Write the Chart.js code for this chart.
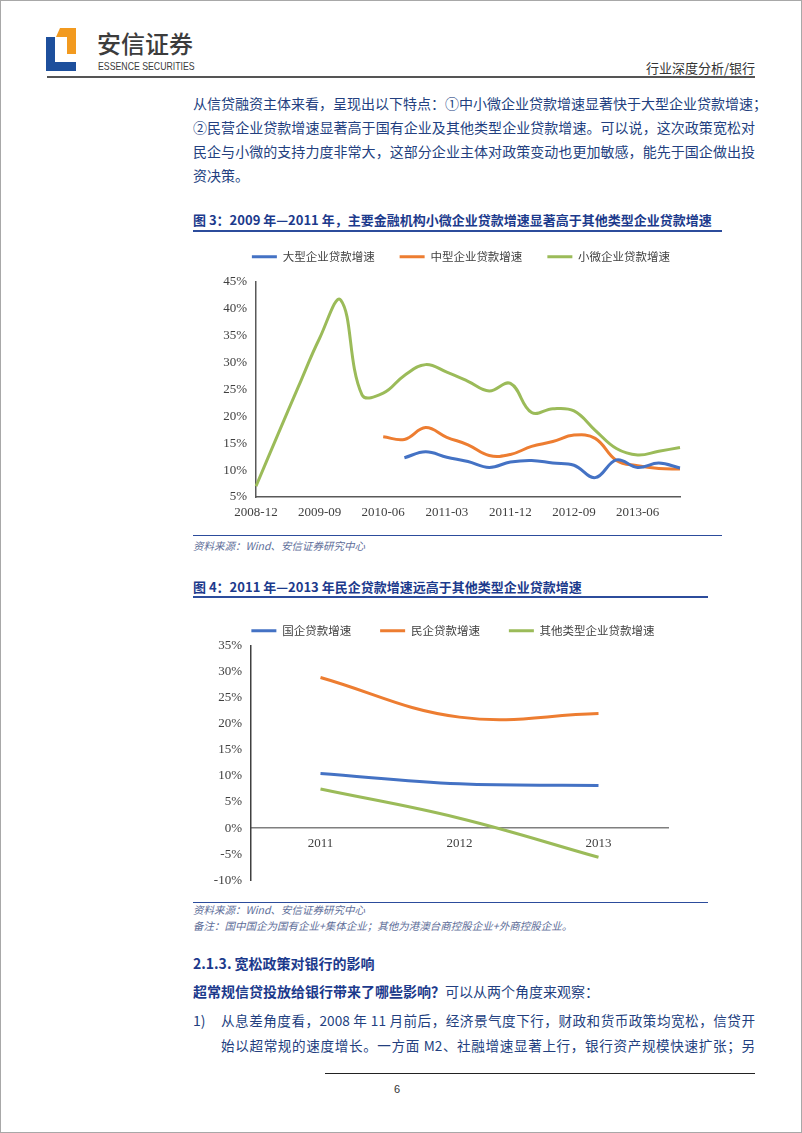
<!DOCTYPE html>
<html>
<head>
<meta charset="utf-8">
<script src="https://cdn.jsdelivr.net/npm/chart.js@4.4.1/dist/chart.umd.min.js"></script>
<style>
  html, body { margin: 0; padding: 0; background: #fff; }
  #page { position: relative; width: 802px; height: 1133px; overflow: hidden; font-family: "Noto Sans CJK SC", sans-serif; color: #233f7f; }
  .abs { position: absolute; }
  .frame { left: 0; top: 0; width: 802px; height: 1133px; box-sizing: border-box; border: 1px solid #a8a8a8; pointer-events: none; }
  .para { left: 193px; top: 91px; width: 562px; font-size: 14px; line-height: 24px; }
  .jl { text-align: justify; text-align-last: justify; white-space: nowrap; }
  .figtitle { left: 193px; font-size: 13px; line-height: 18px; font-weight: bold; color: #1c3a8c; white-space: nowrap; }
  .rule { left: 193px; background: #2c4c9c; }
  .src { left: 193px; font-size: 10.5px; line-height: 14px; font-style: italic; color: #5e6e99; white-space: nowrap; }
  .txt { font-size: 14px; line-height: 18px; white-space: nowrap; }
</style>
</head>
<body>
<div id="page">
  <svg class="abs" style="left:0;top:0" width="100" height="80">
    <polygon points="46,37 55,37 55,62 76,62 76,71 46,71" fill="#1d4f9c"/>
    <polygon points="56,37 60,28 76,28 76,54 67,54 67,37" fill="#f29a1f"/>
  </svg>
  <div class="abs" style="left:97px;top:28px;font-size:24px;line-height:30px;font-weight:500;color:#3c3c3c;">安信证券</div>
  <div class="abs" style="left:98px;top:60px;font-family:'Liberation Sans',sans-serif;font-size:11.5px;line-height:12px;color:#3c3c3c;transform:scaleX(0.76);transform-origin:left top;white-space:nowrap;">ESSENCE SECURITIES</div>
  <div class="abs" style="left:47px;top:76px;width:708px;height:2px;background:#555;"></div>
  <div class="abs" style="right:47px;top:60px;font-size:13px;line-height:16px;color:#333;">行业深度分析/银行</div>

  <div class="abs para">
    <div class="jl">从信贷融资主体来看，呈现出以下特点：①中小微企业贷款增速显著快于大型企业贷款增速；</div>
    <div class="jl">②民营企业贷款增速显著高于国有企业及其他类型企业贷款增速。可以说，这次政策宽松对</div>
    <div class="jl">民企与小微的支持力度非常大，这部分企业主体对政策变动也更加敏感，能先于国企做出投</div>
    <div>资决策。</div>
  </div>

  <div class="abs figtitle" style="top:211px;">图 3：2009 年—2011 年，主要金融机构小微企业贷款增速显著高于其他类型企业贷款增速</div>
  <div class="abs rule" style="top:230px;width:529px;height:2px;"></div>
  <div class="abs" style="left:193px;top:226px;width:536px;height:301px;"><canvas id="c1"></canvas></div>
  <div class="abs rule" style="top:535px;width:529px;height:1px;"></div>
  <div class="abs src" style="top:539px;">资料来源：Wind、安信证券研究中心</div>

  <div class="abs figtitle" style="top:578px;">图 4：2011 年—2013 年民企贷款增速远高于其他类型企业贷款增速</div>
  <div class="abs rule" style="top:596px;width:515px;height:2px;"></div>
  <div class="abs" style="left:193px;top:596px;width:520px;height:301px;"><canvas id="c2"></canvas></div>
  <div class="abs rule" style="top:902px;width:515px;height:1px;"></div>
  <div class="abs src" style="top:903px;">资料来源：Wind、安信证券研究中心</div>
  <div class="abs src" style="top:919px;">备注：国中国企为国有企业+集体企业；其他为港澳台商控股企业+外商控股企业。</div>

  <div class="abs txt" style="left:193px;top:954px;font-weight:bold;color:#1c3a8c;">2.1.3. 宽松政策对银行的影响</div>
  <div class="abs txt" style="left:193px;top:982px;"><b style="color:#1c3a8c;">超常规信贷投放给银行带来了哪些影响？</b>可以从两个角度来观察：</div>
  <div class="abs txt" style="left:193px;top:1011px;">1)</div>
  <div class="abs txt jl" style="left:221px;top:1011px;width:534px;font-size:13.6px;">从息差角度看，2008 年 11 月前后，经济景气度下行，财政和货币政策均宽松，信贷开</div>
  <div class="abs txt jl" style="left:221px;top:1036px;width:534px;font-size:13.6px;">始以超常规的速度增长。一方面 M2、社融增速显著上行，银行资产规模快速扩张；另</div>

  <div class="abs" style="left:325px;top:1073px;width:430px;height:1px;background:#222;"></div>
  <div class="abs" style="left:394px;top:1082px;font-family:'Liberation Sans',sans-serif;font-size:11px;line-height:14px;color:#333;">6</div>
  <div class="abs frame"></div>
</div>

<script>
// 图3 数据（季度）
const quarters = ["2008-12", "2009-03", "2009-06", "2009-09", "2009-12", "2010-03", "2010-06",
  "2010-09", "2010-12", "2011-03", "2011-06", "2011-09", "2011-12", "2012-03", "2012-06",
  "2012-09", "2012-12", "2013-03", "2013-06", "2013-09", "2013-12"];
const largeLoan = [null, null, null, null, null, null, null, 12.3, 13.4, 12.4, 11.6, 10.5, 11.5, 11.8, 11.3, 10.9, 8.6, 11.9, 10.5, 11.3, 10.4];
const mediumLoan = [null, null, null, null, null, null, 16.2, 15.7, 17.9, 16.1, 14.7, 12.7, 12.9, 14.4, 15.3, 16.5, 15.9, 11.8, 10.8, 10.3, 10.2];
const smallLoan = [7.0, 16.3, 25.5, 34.5, 41.6, 24.0, 24.3, 27.6, 29.6, 28.2, 26.5, 24.7, 26.1, 20.7, 21.4, 21.0, 17.4, 14.0, 12.8, 13.5, 14.2];

// 图4 数据（年度）
const years = ["2011", "2012", "2013"];
const soeLoan = [10.5, 8.5, 8.2];
const privateLoan = [28.9, 21.3, 22.0];
const otherLoan = [7.5, 1.9, -5.6];

const colorHex = ["#4472C4", "#ED7D31", "#9BBB59"];
const tickFont = { family: "Liberation Serif", size: 13 };
const legendFont = { family: "Noto Sans CJK SC", size: 11.5 };

let legendLabels = (gap) => ({
  font: legendFont,
  color: "#404040",
  boxWidth: 25,
  boxHeight: 3,
  padding: gap,
  generateLabels: (chart) => {
    return Chart.defaults.plugins.legend.labels.generateLabels(chart).map((l) => {
      return { ...l, lineWidth: 0, fillStyle: l.strokeStyle };
    });
  },
});

// legend: extra gap below it, and a horizontal shift (plot area is padded on the right only)
let legendTweak = (extra, dx) => ({
  id: "legendTweak",
  afterInit(chart) {
    const legend = chart.legend;
    const fit = legend.fit;
    const draw = legend.draw;
    legend.fit = function () {
      fit.call(this);
      this.height += extra;
    };
    legend.draw = function () {
      this.ctx.save();
      this.ctx.translate(dx, 0);
      draw.apply(this, arguments);
      this.ctx.restore();
    };
  },
});

let line = (label, data, color) => ({
  label: label,
  data: data,
  borderColor: color,
  backgroundColor: color,
  borderWidth: 3,
  pointRadius: 0,
  tension: 0.4,
});

let ctx1 = document.getElementById("c1").getContext("2d");
let chart1 = new Chart(ctx1, {
  type: "line",
  data: {
    labels: quarters,
    datasets: [
      line("大型企业贷款增速", largeLoan, colorHex[0]),
      line("中型企业贷款增速", mediumLoan, colorHex[1]),
      line("小微企业贷款增速", smallLoan, colorHex[2]),
    ],
  },
  options: {
    responsive: true,
    maintainAspectRatio: false,
    animation: false,
    layout: { padding: { right: 49 } },
    plugins: {
      legend: { position: "top", labels: legendLabels(25) },
      tooltip: { enabled: false },
    },
    scales: {
      x: {
        offset: false,
        grid: { display: false, drawTicks: false },
        border: { color: "#595959", width: 1.5 },
        ticks: {
          font: tickFont,
          color: "#404040",
          padding: 8,
          autoSkip: false,
          maxRotation: 0,
          minRotation: 0,
          callback: function (value, index) {
            return index % 3 === 0 ? this.getLabelForValue(value) : "";
          },
        },
        afterFit: (scale) => {
          scale.height = 30;
        },
      },
      y: {
        min: 5,
        max: 45,
        grid: { display: false, drawTicks: false },
        border: { color: "#595959", width: 1.5 },
        ticks: {
          stepSize: 5,
          font: tickFont,
          color: "#404040",
          padding: 9,
          callback: (v) => v + "%",
        },
        afterFit: (scale) => {
          scale.width = 63;
        },
      },
    },
  },
  plugins: [legendTweak(9.25, 24.5)],
});

let ctx2 = document.getElementById("c2").getContext("2d");
let chart2 = new Chart(ctx2, {
  type: "line",
  data: {
    labels: years,
    datasets: [
      line("国企贷款增速", soeLoan, colorHex[0]),
      line("民企贷款增速", privateLoan, colorHex[1]),
      line("其他类型企业贷款增速", otherLoan, colorHex[2]),
    ],
  },
  options: {
    responsive: true,
    maintainAspectRatio: false,
    animation: false,
    layout: { padding: { right: 45, bottom: 2 } },
    plugins: {
      legend: { position: "top", labels: legendLabels(29) },
      tooltip: { enabled: false },
    },
    scales: {
      x: {
        position: { y: 0 },
        offset: true,
        grid: { display: false, drawTicks: false },
        border: { color: "#7f7f7f", width: 1.5 },
        ticks: { font: tickFont, color: "#404040", padding: 8, maxRotation: 0 },
      },
      y: {
        min: -10,
        max: 35,
        grid: { display: false, drawTicks: false },
        border: { color: "#404040", width: 1.5 },
        ticks: {
          stepSize: 5,
          font: tickFont,
          color: "#404040",
          padding: 9,
          callback: (v) => v + "%",
        },
        afterFit: (scale) => {
          scale.width = 58;
        },
      },
    },
  },
  plugins: [legendTweak(-0.75, 22.5)],
});
</script>
</body>
</html>
